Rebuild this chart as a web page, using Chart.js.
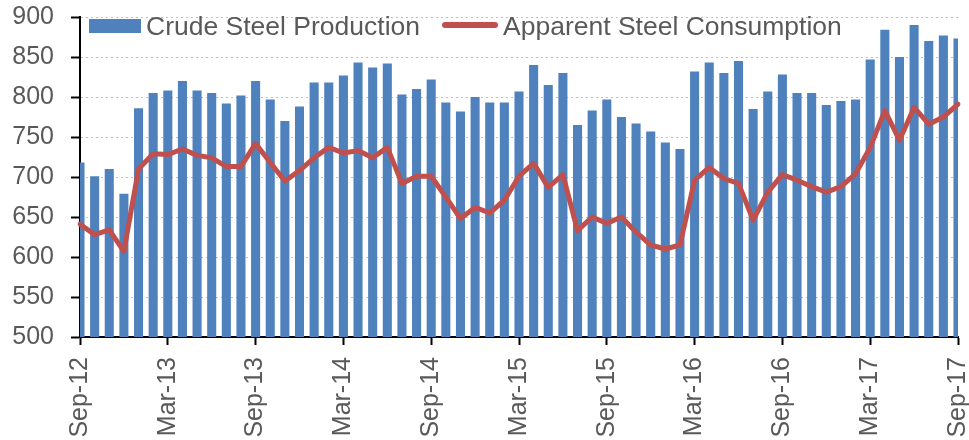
<!DOCTYPE html>
<html>
<head>
<meta charset="utf-8">
<script src="https://cdn.jsdelivr.net/npm/chart.js@4/dist/chart.umd.min.js"></script>
<style>
    body { margin: 0; background: #fff; }
    #wrap { position: relative; width: 969px; height: 440px; }
    .lg { position: absolute; font-family: "Liberation Sans", Arial, sans-serif; font-size: 26.5px; line-height: 26px; color: #595959; white-space: nowrap; }
    .sw { position: absolute; }
</style>
</head>
<body>
<div id="wrap">
    <canvas id="barChart" width="969" height="440"></canvas>
    <div class="sw" style="left:89px;top:19px;width:52px;height:14px;background:#4F81BD;"></div>
    <div class="lg" style="left:146px;top:13px;">Crude Steel Production</div>
    <div class="sw" style="left:442px;top:22px;width:56px;height:6px;border-radius:3px;background:#C0504D;"></div>
    <div class="lg" style="left:503px;top:13px;">Apparent Steel Consumption</div>
</div>
<script>
// months Sep-12 .. Sep-17
const months = [
    'Sep-12', 'Oct-12', 'Nov-12', 'Dec-12',
    'Jan-13', 'Feb-13', 'Mar-13', 'Apr-13', 'May-13', 'Jun-13', 'Jul-13', 'Aug-13', 'Sep-13', 'Oct-13', 'Nov-13', 'Dec-13',
    'Jan-14', 'Feb-14', 'Mar-14', 'Apr-14', 'May-14', 'Jun-14', 'Jul-14', 'Aug-14', 'Sep-14', 'Oct-14', 'Nov-14', 'Dec-14',
    'Jan-15', 'Feb-15', 'Mar-15', 'Apr-15', 'May-15', 'Jun-15', 'Jul-15', 'Aug-15', 'Sep-15', 'Oct-15', 'Nov-15', 'Dec-15',
    'Jan-16', 'Feb-16', 'Mar-16', 'Apr-16', 'May-16', 'Jun-16', 'Jul-16', 'Aug-16', 'Sep-16', 'Oct-16', 'Nov-16', 'Dec-16',
    'Jan-17', 'Feb-17', 'Mar-17', 'Apr-17', 'May-17', 'Jun-17', 'Jul-17', 'Aug-17', 'Sep-17'
];

// only these get a label and a tick mark
const shownLabels = ['Sep-12', 'Mar-13', 'Sep-13', 'Mar-14', 'Sep-14', 'Mar-15', 'Sep-15', 'Mar-16', 'Sep-16', 'Mar-17', 'Sep-17'];

const crudeProduction = [
    718, 701, 710, 679,
    786, 805, 808, 820, 808, 805, 792, 802, 820, 797, 770, 788,
    818, 818, 827, 843, 837, 842, 803, 810, 822, 793, 782, 800,
    793, 793, 807, 840, 815, 830, 765, 783, 797, 775, 767, 757,
    743, 735, 832, 843, 830, 845, 785, 807, 828, 805, 805, 790,
    795, 797, 847, 884, 850, 890, 870, 877, 873
];

const apparentConsumption = [
    641, 628, 634, 607,
    710, 729, 728, 735, 727, 724, 713, 713, 742, 718, 695, 708,
    724, 737, 730, 733, 724, 737, 692, 701, 701, 675, 648, 662,
    655, 671, 701, 717, 687, 703, 633, 650, 642, 650, 631, 615,
    610, 615, 696, 712, 698, 692, 646, 681, 703, 696, 688, 681,
    688, 704, 737, 783, 746, 787, 766, 775, 791
];

const yTicks = [500, 550, 600, 650, 700, 750, 800, 850, 900];

const textColor = '#595959';
const fontFamily = '"Liberation Sans", Arial, sans-serif';

var ctx = document.getElementById('barChart').getContext('2d');
var myChart = new Chart(ctx, {
    type: 'bar',
    data: {
        labels: months,
        datasets: [{
            type: 'line',
            label: 'Apparent Steel Consumption',
            data: apparentConsumption,
            borderColor: '#C0504D',
            backgroundColor: '#C0504D',
            borderWidth: 5,
            borderJoinStyle: 'round',
            borderCapStyle: 'round',
            pointRadius: 0,
            tension: 0,
            order: 0
        }, {
            label: 'Crude Steel Production',
            data: crudeProduction,
            backgroundColor: '#4F81BD',
            borderWidth: 0,
            categoryPercentage: 1,
            barPercentage: 0.62,
            clip: 0,
            order: 1
        }]
    },
    options: {
        responsive: false,
        animation: false,
        layout: {
            padding: { top: 17, right: 11, left: 0, bottom: 0 }
        },
        plugins: {
            legend: { display: false },
            tooltip: { enabled: false }
        },
        scales: {
            x: {
                offset: false,
                grid: {
                    offset: false,
                    drawOnChartArea: false,
                    drawTicks: true,
                    tickLength: 8,
                    tickWidth: 2,
                    tickColor: (c) => shownLabels.includes(months[c.index]) ? '#000' : 'rgba(0,0,0,0)'
                },
                border: { color: '#000', width: 2 },
                ticks: {
                    autoSkip: false,
                    minRotation: 90,
                    maxRotation: 90,
                    padding: 12,
                    color: textColor,
                    font: { family: fontFamily, size: 25 },
                    callback: function(value, index) {
                        const lbl = months[index];
                        return shownLabels.includes(lbl) ? lbl : '';
                    }
                },
                afterFit: function(scale) {
                    scale.height = 103;
                    scale.paddingLeft = 0;
                    scale.paddingRight = 0;
                }
            },
            y: {
                min: yTicks[0],
                max: yTicks[yTicks.length - 1],
                afterBuildTicks: function(scale) {
                    scale.ticks = yTicks.map(v => ({ value: v }));
                },
                grid: {
                    color: '#BFBFBF',
                    lineWidth: 1,
                    tickLength: 9,
                    tickWidth: 2,
                    tickColor: '#000'
                },
                border: { color: '#000', width: 2, dash: [2, 3] },
                ticks: {
                    padding: 17,
                    color: textColor,
                    font: { family: fontFamily, size: 25 }
                },
                afterFit: function(scale) {
                    scale.width = 80;
                    scale.paddingTop = 0;
                    scale.paddingBottom = 0;
                }
            }
        }
    }
});
</script>
</body>
</html>
